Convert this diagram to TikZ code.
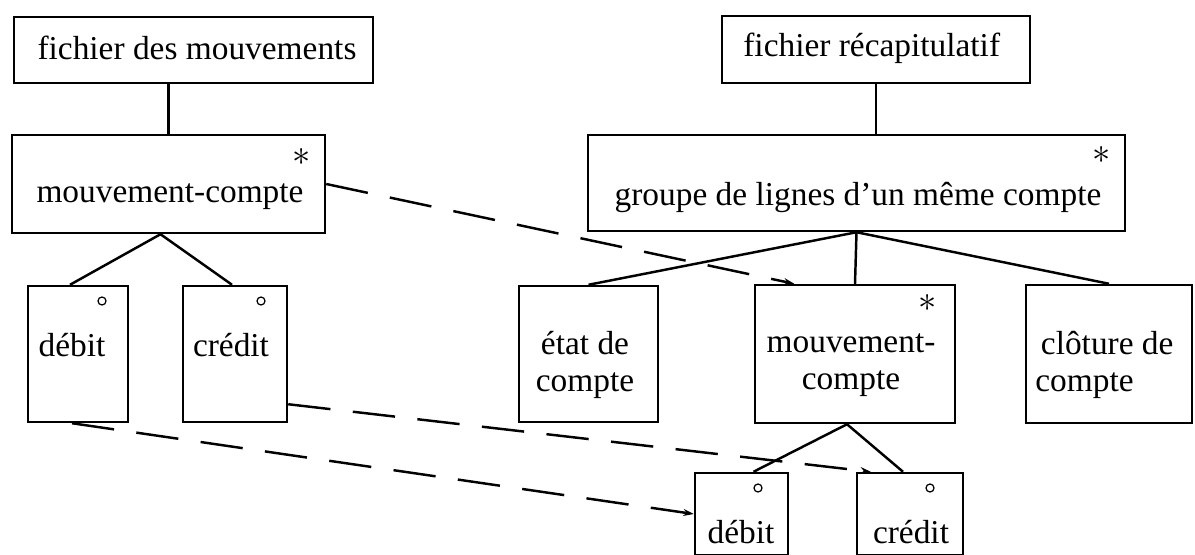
\documentclass[tikz,border=0pt]{standalone}
\usepackage{fontspec}
\setmainfont{Liberation Serif}
\usetikzlibrary{fit, calc, arrows.meta}
\tikzset{
  record/.style={
    draw,
    line width=1.4pt,
    inner sep=0pt},
  txt/.style={
    inner sep=0pt,
    align=center},
  ring/.style={
    circle,
    draw,
    line width=0.7pt,
    inner sep=0pt,
    minimum size=0.16cm},
  rep/.style={
    inner sep=0pt,
    font=\fontsize{20}{20}\selectfont},
  tree/.style={line width=1.4pt},
  link/.style={
    line width=1.4pt,
    dash pattern=on 0.85cm off 0.45cm,
    -{Stealth[length=6pt,width=4pt]}}
}

\begin{document}
\begin{tikzpicture}[x=0.02cm, y=-0.02cm, font=\fontsize{19}{21}\selectfont]
  \useasboundingbox (0,0) rectangle (1195,554);

  % Fichier des mouvements
  \node (fdm) [record, fit={(14,17) (373,83)}] {};
  \node (fdmt) [txt] at (197,48) {fichier des mouvements};

  \node (mcL) [record, fit={(12,135) (325,233)}] {};
  \node (mcLt) [txt] at (170,197) {mouvement-compte};
  \node (mcLs) [rep] at (302,157) {$\ast$};

  \node (d1) [record, fit={(28,286) (128,422)}] {};
  \node (d1t) [txt] at (72,345) {débit};
  \node (d1r) [ring] at (102,301) {};

  \node (c1) [record, fit={(183,286) (287,422)}] {};
  \node (c1t) [txt] at (231,345) {crédit};
  \node (c1r) [ring] at (261,301) {};

  \draw[tree] (mcL.north |- fdm.south) -- (mcL.north);
  \draw[tree] ($(d1.north)+(-8,0)$) -- ($(mcL.south)+(-8,0)$) -- ($(c1.north)+(-3,0)$);

  % Fichier recapitulatif
  \node (fr) [record, fit={(722,16) (1030,83)}] {};
  \node (frt) [txt, anchor=base west] at (743,57) {fichier récapitulatif};

  \node (grp) [record, fit={(588,135) (1125,231)}] {};
  \node (grpt) [txt] at (858,197) {groupe de lignes d’un même compte};
  \node (grps) [rep] at (1102,155) {$\ast$};

  \node (et) [record, fit={(519,286) (658,422)}] {};
  \node (ett) [txt] at (585,365) {état de\\compte};

  \node (mcR) [record, fit={(755,285) (955,423)}] {};
  \node (mcRt) [txt] at (851,365) {mouvement-\\compte};
  \node (mcRs) [rep] at (928,303) {$\ast$};

  \node (cl) [record, fit={(1026,285) (1192,423)}] {};
  \node (clt) [txt, align=left, anchor=west] at (1035,365) {\,clôture de\\compte};

  \node (d2) [record, fit={(695,473) (788,555)}] {};
  \node (d2t) [txt] at (741,532) {débit};
  \node (d2r) [ring] at (758,488) {};

  \node (c2) [record, fit={(857,473) (963,555)}] {};
  \node (c2t) [txt] at (911,532) {crédit};
  \node (c2r) [ring] at (930,488) {};

  \draw[tree] (fr.south) -- (fr.south |- grp.north);
  \draw[tree] (et.north) -- (grp.south) -- (cl.north);
  \draw[tree] (grp.south) -- (mcR.north);
  \draw[tree] ($(d2.north)+(12,0)$) -- ($(mcR.south)+(-8,0)$) -- ($(c2.north)+(-7,0)$);

  % Correspondances
  \draw[link] (mcL.east) -- ($(mcR.north west)!0.2!(mcR.north east)$);
  \draw[link] ($(c1.south east)+(0,-19)$) -- ($(c2.north west)+(15,0)$);
  \draw[link] ($(d1.south)+(-6,0)$) -- (d2.west);
\end{tikzpicture}
\end{document}
